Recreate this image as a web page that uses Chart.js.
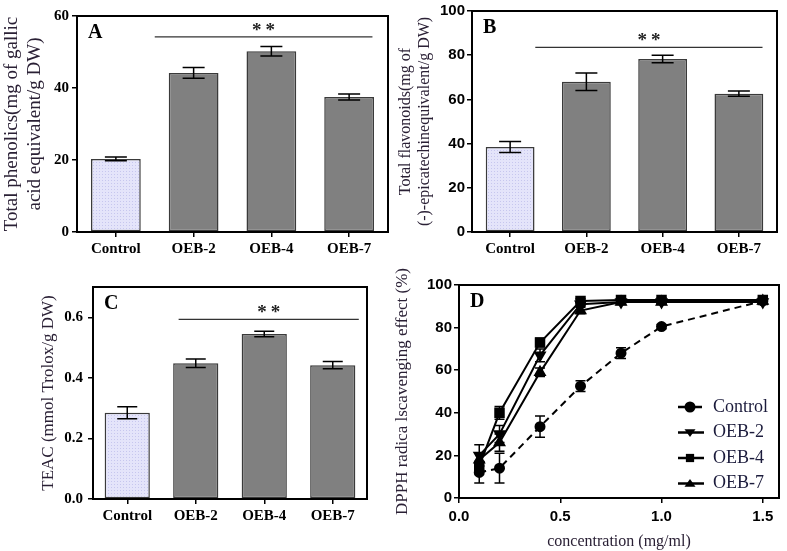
<!DOCTYPE html>
<html>
<head>
<meta charset="utf-8">
<script src="https://cdn.jsdelivr.net/npm/chart.js@4.4.1/dist/chart.umd.min.js"></script>
<style>
html,body{margin:0;padding:0;background:#fff;}
body{width:787px;height:551px;position:relative;overflow:hidden;}
canvas{position:absolute;}
</style>
</head>
<body>
<canvas id="cA" width="395" height="268" style="left:0;top:0;width:395px;height:268px"></canvas>
<canvas id="cB" width="392" height="268" style="left:395px;top:0;width:392px;height:268px"></canvas>
<canvas id="cC" width="395" height="283" style="left:0;top:268px;width:395px;height:283px"></canvas>
<canvas id="cD" width="402" height="296" style="left:385px;top:255px;width:402px;height:296px"></canvas>
<script>
// Data
const groups = ['Control', 'OEB-2', 'OEB-4', 'OEB-7'];
const phenolics = [20.3, 44.2, 50.2, 37.5];
const phenolicsErr = [0.5, 1.5, 1.3, 0.8];
const flavonoids = [38.5, 68.0, 78.3, 62.6];
const flavonoidsErr = [2.5, 4.0, 1.7, 1.2];
const teac = [0.285, 0.448, 0.545, 0.442];
const teacErr = [0.02, 0.014, 0.009, 0.012];

const conc = [0.1, 0.2, 0.4, 0.6, 0.8, 1.0, 1.5];
const dpphControl = [12, 14, 33.5, 52.5, 68, 80.5, 92.5];
const dpphControlErr = [5, 7, 5, 2.5, 2.5, 1, 1];
const dpphOEB2 = [20, 30, 67, 91, 92, 92, 92];
const dpphOEB2Err = [5, 4, 3, 1, 1, 1, 1];
const dpphOEB4 = [15, 40, 73, 92.5, 93, 93, 93];
const dpphOEB4Err = [2, 3, 2, 1, 1, 1, 1];
const dpphOEB7 = [18, 26, 59, 88, 92, 92, 92.5];
const dpphOEB7Err = [3, 4, 2, 1.5, 1, 1, 1];

const ticksA = [0, 20, 40, 60];
const ticksB = [0, 20, 40, 60, 80, 100];
const ticksC = [0, 0.2, 0.4, 0.6];
const ticksDy = [0, 20, 40, 60, 80, 100];
const ticksDx = [0, 0.5, 1.0, 1.5];

const SERIF = '"Liberation Serif", "Times New Roman", serif';
const SANS = '"Liberation Sans", Arial, sans-serif';
const TITLE_COLOR = '#2a2035';
const GREY = '#808080';

// dotted lavender fill like the control bars
function dots(){
  const c = document.createElement('canvas'); c.width = 3; c.height = 3;
  const g = c.getContext('2d');
  g.fillStyle = '#e4e4fa'; g.fillRect(0, 0, 3, 3);
  g.fillStyle = '#c6c6ee'; g.fillRect(0, 0, 1, 1);
  return g.createPattern(c, 'repeat');
}
const LAVENDER = dots();

// Plugins
function errorBars(errs, cap){
  return {id:'errorBars', afterDatasetsDraw(chart){
    const ctx = chart.ctx, ys = chart.scales.y;
    ctx.save(); ctx.strokeStyle = '#000'; ctx.lineWidth = 1.5; ctx.setLineDash([]);
    errs.forEach((arr, di)=>{
      const meta = chart.getDatasetMeta(di);
      const data = chart.data.datasets[di].data;
      meta.data.forEach((el, i)=>{
        const v = typeof data[i] === 'object' ? data[i].y : data[i];
        const x = el.x, y1 = ys.getPixelForValue(v + arr[i]), y2 = ys.getPixelForValue(v - arr[i]);
        ctx.beginPath();
        ctx.moveTo(x, y1); ctx.lineTo(x, y2);
        ctx.moveTo(x - cap/2, y1); ctx.lineTo(x + cap/2, y1);
        ctx.moveTo(x - cap/2, y2); ctx.lineTo(x + cap/2, y2);
        ctx.stroke();
      });
    });
    ctx.restore();
  }};
}

function decor(letter, sig){
  return {id:'decor', afterDraw(chart){
    const ctx = chart.ctx, a = chart.chartArea;
    ctx.save();
    ctx.strokeStyle = '#000'; ctx.lineWidth = 2;
    ctx.strokeRect(a.left, a.top, a.right - a.left, a.bottom - a.top);
    ctx.fillStyle = '#000';
    ctx.font = 'bold 20px ' + SERIF;
    ctx.textBaseline = 'middle';
    ctx.fillText(letter, a.left + 11, a.top + 17);
    if(sig){
      const xs = chart.scales.x, ys = chart.scales.y;
      const x1 = xs.getPixelForValue(sig.from), x2 = xs.getPixelForValue(sig.to), y = ys.getPixelForValue(sig.y);
      ctx.strokeStyle = '#333'; ctx.lineWidth = 1.2;
      ctx.beginPath(); ctx.moveTo(x1, y); ctx.lineTo(x2, y); ctx.stroke();
      ctx.fillStyle = '#222';
      ctx.font = 'bold 19px ' + SERIF;
      ctx.letterSpacing = '4px';
      ctx.textAlign = 'center'; ctx.textBaseline = 'alphabetic';
      ctx.fillText('**', (x1 + x2)/2 + 2, y - 1);
    }
    ctx.restore();
  }};
}

function marker(ctx, style, x, y, r){
  ctx.beginPath();
  if(style === 'circle'){ ctx.arc(x, y, r, 0, Math.PI*2); }
  else if(style === 'rect'){ const s = r*0.75; ctx.rect(x - s, y - s, 2*s, 2*s); }
  else if(style === 'down'){ ctx.moveTo(x - r, y - r*0.6); ctx.lineTo(x + r, y - r*0.6); ctx.lineTo(x, y + r*0.8); ctx.closePath(); }
  else { ctx.moveTo(x - r, y + r*0.6); ctx.lineTo(x + r, y + r*0.6); ctx.lineTo(x, y - r*0.8); ctx.closePath(); }
  ctx.fill();
}

const legendD = {id:'legendD', afterDraw(chart){
  const ctx = chart.ctx, a = chart.chartArea;
  const styles = ['circle', 'down', 'rect', 'up'];
  ctx.save();
  chart.data.datasets.forEach((ds, i)=>{
    const y = a.bottom - 91 + i*25.5, x0 = a.right - 101;
    ctx.strokeStyle = '#000'; ctx.fillStyle = '#000'; ctx.lineWidth = 2.5;
    ctx.setLineDash(i === 0 ? [10, 4] : []);
    ctx.beginPath(); ctx.moveTo(x0, y); ctx.lineTo(x0 + 26, y); ctx.stroke();
    ctx.setLineDash([]);
    marker(ctx, styles[i], x0 + 12, y, 5.5);
    ctx.fillStyle = '#1c1c3c';
    ctx.font = '18px ' + SERIF;
    ctx.textBaseline = 'middle';
    ctx.fillText(ds.label, a.right - 66, y);
  });
  ctx.restore();
}};

// Axis helpers
function yAxis(o){
  return {
    min: 0, max: o.max,
    afterBuildTicks(s){ s.ticks = o.ticks.map(v=>({value:v})); },
    afterFit(s){ s.width = o.width; },
    grid: {drawOnChartArea:false, tickLength:5, color:'#000', lineWidth:1.5},
    border: {color:'#000', width:2},
    ticks: {font:{family:o.tickFamily, size:15, weight:'bold'}, color:'#000', padding:o.tickPad,
      callback: v => o.fixed ? Number(v).toFixed(1) : v},
    title: {display:true, text:o.title, font:{family:SERIF, size:o.titleSize, lineHeight:1.2}, color:TITLE_COLOR,
      padding:{top:o.titlePad, bottom:0}}
  };
}

function barChart(id, values, errs, o){
  return new Chart(document.getElementById(id), {
    type: 'bar',
    data: {labels: groups, datasets: [{
      data: values,
      backgroundColor: [LAVENDER, GREY, GREY, GREY],
      borderColor: '#3a3a3a', borderWidth: 1.5, borderSkipped: false,
      barPercentage: o.barPct, categoryPercentage: 1
    }]},
    options: {
      responsive:false, animation:false, devicePixelRatio:1,
      layout: {padding:{top:o.padTop, right:o.padRight, left:0, bottom:0}},
      plugins: {legend:{display:false}, tooltip:{enabled:false}},
      scales: {
        x: {
          afterFit(s){ s.height = o.xHeight; },
          grid: {drawOnChartArea:false, offset:false, tickLength:5, color:'#000', lineWidth:1.5},
          border: {color:'#000', width:2},
          ticks: {font:{family:SERIF, size:15, weight:'bold'}, color:'#000', padding:3}
        },
        y: yAxis(o.y)
      }
    },
    plugins: [errorBars([errs], o.cap), decor(o.letter, o.sig)]
  });
}

barChart('cA', phenolics, phenolicsErr, {
  padTop:16, padRight:7, xHeight:36, barPct:0.64, cap:22, letter:'A',
  sig:{from:0.5, to:3.3, y:54.2},
  y:{max:60, ticks:ticksA, width:77, tickFamily:SERIF, tickPad:3,
    title:['Total phenolics(mg of gallic', 'acid equivalent/g DW)'], titleSize:19, titlePad:1}
});

barChart('cB', flavonoids, flavonoidsErr, {
  padTop:7, padRight:10, xHeight:36, barPct:0.64, cap:22, letter:'B',
  sig:{from:0.33, to:3.31, y:83.5},
  y:{max:100, ticks:ticksB, width:77, tickFamily:SANS, tickPad:2,
    title:['Total flavonoids(mg of', '(-)-epicatechinequivalent/g DW)'], titleSize:16, titlePad:1}
});

barChart('cC', teac, teacErr, {
  padTop:19, padRight:28, xHeight:52, barPct:0.66, cap:20, letter:'C',
  sig:{from:0.75, to:3.38, y:0.593},
  y:{max:0.7, ticks:ticksC, width:93, tickFamily:SERIF, tickPad:5, fixed:true,
    title:'TEAC (mmol Trolox/g DW)', titleSize:17, titlePad:38}
});

// Panel D
function pts(ys){ return conc.map((c, i)=>({x:c, y:ys[i]})); }
new Chart(document.getElementById('cD'), {
  type: 'line',
  data: {datasets: [
    {label:'Control', data:pts(dpphControl), borderDash:[7,5], pointStyle:'circle', pointRadius:4.5},
    {label:'OEB-2', data:pts(dpphOEB2), pointStyle:'triangle', rotation:180, pointRadius:5.5},
    {label:'OEB-4', data:pts(dpphOEB4), pointStyle:'rect', pointRadius:6},
    {label:'OEB-7', data:pts(dpphOEB7), pointStyle:'triangle', pointRadius:5.5}
  ].map(d=>Object.assign({borderColor:'#000', backgroundColor:'#000', pointBackgroundColor:'#000',
    pointBorderColor:'#000', borderWidth:2, tension:0}, d))},
  options: {
    responsive:false, animation:false, devicePixelRatio:1,
    layout: {padding:{top:30, right:6, left:0, bottom:0}},
    plugins: {legend:{display:false}, tooltip:{enabled:false}},
    scales: {
      x: {
        type:'linear', min:0, max:1.58,
        afterBuildTicks(s){ s.ticks = ticksDx.map(v=>({value:v})); },
        afterFit(s){ s.height = 53; },
        grid: {drawOnChartArea:false, tickLength:5, color:'#000', lineWidth:1.5},
        border: {color:'#000', width:2},
        ticks: {font:{family:SANS, size:15, weight:'bold'}, color:'#000', padding:5, callback: v => Number(v).toFixed(1)},
        title: {display:true, text:'concentration (mg/ml)', font:{family:SERIF, size:16}, color:TITLE_COLOR, padding:{top:3, bottom:0}}
      },
      y: yAxis({max:100, ticks:ticksDy, width:74, tickFamily:SANS, tickPad:2,
        title:'DPPH radica lscavenging effect (%)', titleSize:17, titlePad:7})
    }
  },
  plugins: [errorBars([dpphControlErr, dpphOEB2Err, dpphOEB4Err, dpphOEB7Err], 10), decor('D', null), legendD]
});
</script>
</body>
</html>
